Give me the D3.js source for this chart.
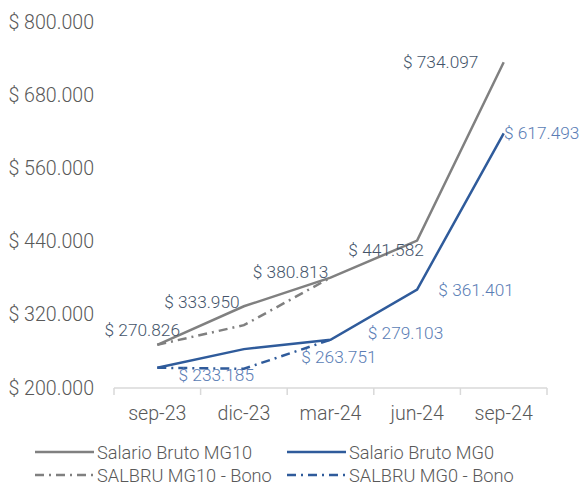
<!DOCTYPE html>
<html>
<head>
<meta charset="utf-8">
<script src="https://cdn.jsdelivr.net/npm/d3@7"></script>
<style>
    body { margin: 0; background: #fff; }
    svg text { font-family: Roboto, "Noto Sans", sans-serif; font-weight: 300; }
</style>
</head>
<body>
<svg id="chart" width="581" height="487"></svg>
<script>
const categories = ["sep-23", "dic-23", "mar-24", "jun-24", "sep-24"];
const salarioMG10 = [270826, 333950, 380813, 441582, 734097];
const salarioMG0 = [233185, 263751, 279103, 361401, 617493];
const bonoMG10 = [270826, 303000, 380813, null, null];
const bonoMG0 = [233185, 231500, 279103, null, null];
const yTicks = [200000, 320000, 440000, 560000, 680000, 800000];

// label nudges (px) relative to each point
const offsetsMG10 = [[-15, -15], [-42, -4], [-40, -6], [-31, 9], [-63, 0]];
const offsetsMG0 = [[59, 7], [95, 8], [75, -7], [59, 0], [38, 0]];

const grey = "#808080";
const blue = "#2f5b9b";

let svg = d3.select("#chart");

let x = d3.scaleBand().domain(categories).range([114, 547]);
let y = d3.scaleLinear().domain([200000, 800000]).range([388, 22]);
let cx = d => x(d) + x.bandwidth() / 2;

let locale = d3.formatLocale({decimal: ",", thousands: ".", grouping: [3], currency: ["$ ", ""]});
let fmt = locale.format("$,.0f");

// y labels
svg.append("g")
    .selectAll("text")
    .data(yTicks)
    .enter()
    .append("text")
    .attr("x", 94)
    .attr("y", d => y(d))
    .attr("text-anchor", "end")
    .attr("dominant-baseline", "central")
    .attr("font-size", 19.6)
    .attr("fill", "#595959")
    .text(d => fmt(d));

// x axis line and separators
let axis = svg.append("g");
axis.append("line")
    .attr("x1", x.range()[0]).attr("x2", x.range()[1])
    .attr("y1", y(200000)).attr("y2", y(200000))
    .attr("stroke", "#d9d9d9").attr("stroke-width", 1.5);
axis.selectAll("line.sep")
    .data(categories.concat([null]))
    .enter()
    .append("line")
    .attr("class", "sep")
    .attr("x1", (d, i) => x.range()[0] + i * x.step())
    .attr("x2", (d, i) => x.range()[0] + i * x.step())
    .attr("y1", y(200000)).attr("y2", y(200000) + 7)
    .attr("stroke", "#d9d9d9").attr("stroke-width", 1.5);
axis.selectAll("text")
    .data(categories)
    .enter()
    .append("text")
    .attr("x", d => cx(d))
    .attr("y", 413)
    .attr("text-anchor", "middle")
    .attr("dominant-baseline", "central")
    .attr("font-size", 19.6)
    .attr("fill", "#595959")
    .text(d => d);

let line = d3.line()
    .defined(d => d.v != null)
    .x(d => cx(d.c))
    .y(d => y(d.v));
let pts = vals => vals.map((v, i) => ({c: categories[i], v: v}));

let dashDot = "9,5,2,5";
let series = [
    {vals: bonoMG10, color: grey, dash: dashDot},
    {vals: bonoMG0, color: blue, dash: dashDot},
    {vals: salarioMG10, color: grey, dash: null},
    {vals: salarioMG0, color: blue, dash: null}
];
svg.append("g")
    .selectAll("path")
    .data(series)
    .enter()
    .append("path")
    .attr("d", d => line(pts(d.vals)))
    .attr("fill", "none")
    .attr("stroke", d => d.color)
    .attr("stroke-width", 2.5)
    .attr("stroke-dasharray", d => d.dash);

// data labels
function labels(vals, offs, color) {
    svg.append("g")
        .selectAll("text")
        .data(pts(vals))
        .enter()
        .append("text")
        .attr("x", (d, i) => cx(d.c) + offs[i][0])
        .attr("y", (d, i) => y(d.v) + offs[i][1])
        .attr("text-anchor", "middle")
        .attr("dominant-baseline", "central")
        .attr("font-size", 17.3)
        .attr("fill", color)
        .text(d => fmt(d.v));
}
labels(salarioMG10, offsetsMG10, "#44546a");
labels(salarioMG0, offsetsMG0, "#5a7db5");

// legend
let legendItems = [
    {name: "Salario Bruto MG10", color: grey, dash: null, col: 0, row: 0},
    {name: "Salario Bruto MG0", color: blue, dash: null, col: 1, row: 0},
    {name: "SALBRU MG10 - Bono", color: grey, dash: dashDot, col: 0, row: 1},
    {name: "SALBRU MG0 - Bono", color: blue, dash: dashDot, col: 1, row: 1}
];
let legend = svg.append("g")
    .selectAll("g")
    .data(legendItems)
    .enter()
    .append("g")
    .attr("transform", d => `translate(${d.col === 0 ? 35 : 287},${452 + d.row * 23})`);
legend.append("line")
    .attr("x1", 0).attr("x2", 59)
    .attr("stroke", d => d.color)
    .attr("stroke-width", 2.5)
    .attr("stroke-dasharray", d => d.dash);
legend.append("text")
    .attr("x", 62)
    .attr("dominant-baseline", "central")
    .attr("font-size", 18.2)
    .attr("fill", "#595959")
    .text(d => d.name);
</script>
</body>
</html>
